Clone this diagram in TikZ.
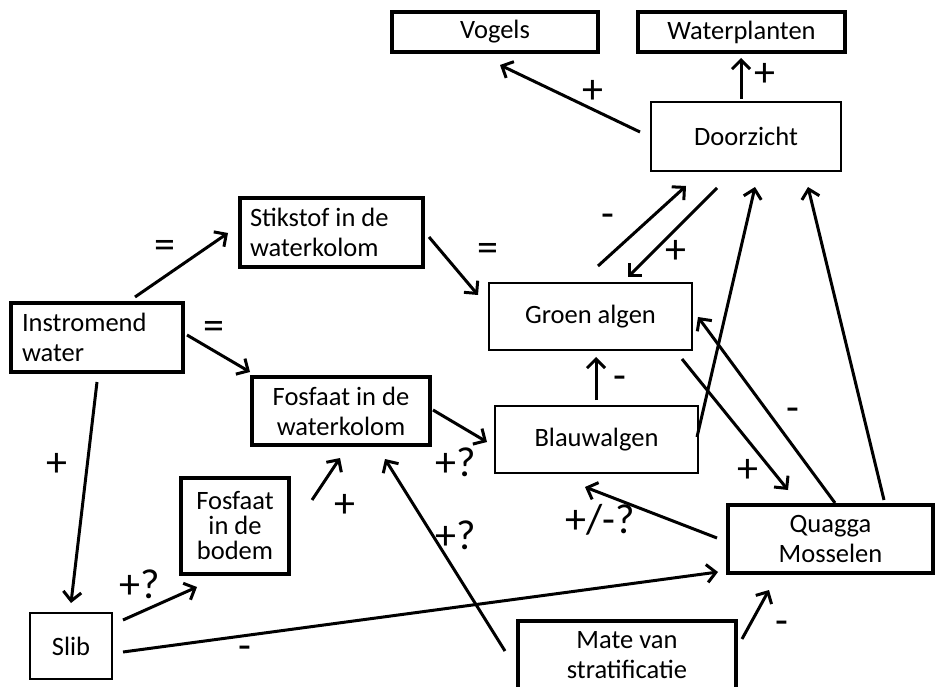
\documentclass[tikz,border=0pt]{standalone}
\usepackage{fontspec}
\setmainfont{Carlito}
\usepackage{tikz}
\usetikzlibrary{arrows.meta, calc}

\tikzset{
  kader/.style={draw, line width=3.6pt, inner sep=0pt, align=center,
                font=\fontsize{26.5}{30}\selectfont},
  dunkader/.style={kader, line width=2pt},
  pijl/.style={line width=3pt, -{Straight Barb[length=9pt,width=18pt]}},
  teken/.style={inner sep=0pt, font=\fontsize{42}{42}\selectfont},
}

\begin{document}
\begin{tikzpicture}[x=1pt, y=-1pt]
  \useasboundingbox (0,0) rectangle (938,687);
  % bovenste rij
  \node[kader, minimum width=206pt, minimum height=40pt] (vogels) at (495,32) {Vogels};
  \node[kader, minimum width=207pt, minimum height=40pt] (planten) at (741.5,32) {Waterplanten};
  \node[dunkader, minimum width=190pt, minimum height=69pt] (door) at (746,136.5) {Doorzicht};
  % nutrienten
  \node[kader, align=flush left, text width=163pt, inner xsep=10pt, minimum height=69pt]
       (stikstof) at (331.5,232.5) {Stikstof in de\\waterkolom};
  \node[kader, align=flush left, text width=150pt, inner xsep=11pt, minimum height=69pt]
       (instroom) at (97,337.5) {Instromend\\water};
  \node[kader, minimum width=178pt, minimum height=68pt] (fosfwk) at (341,411) {Fosfaat in de\\waterkolom};
  \node[kader, font=\fontsize{26.5}{25}\selectfont, minimum width=108pt, minimum height=96pt]
       (fosfbod) at (235,526) {Fosfaat\\in de\\bodem};
  % algen
  \node[dunkader, minimum width=203pt, minimum height=67pt] (groen) at (590.5,316.5) {Groen algen};
  \node[dunkader, minimum width=203pt, minimum height=67pt] (blauw) at (596.5,439.5) {Blauwalgen};
  % onderste rij
  \node[kader, minimum width=205pt, minimum height=68pt] (quagga) at (830.5,539) {Quagga\\Mosselen};
  \node[dunkader, minimum width=82pt, minimum height=66pt] (slib) at (71,646) {Slib};
  \node[kader, minimum width=218pt, minimum height=68pt] (strat) at (627,655) {Mate van\\stratificatie};

  % pijlen
  \draw[pijl] ($(door)+(-5,-37.5)$) -- ($(planten)+(-0.5,26)$);
  \draw[pijl] ($(door)+(-106,-4.5)$) -- ($(vogels)+(5,33)$);
  \draw[pijl] ($(instroom)+(38,-40.5)$) -- ($(stikstof)+(-103.5,0.5)$);
  \draw[pijl] ($(instroom)+(90,-2.5)$) -- ($(fosfwk)+(-91,-39)$);
  \draw[pijl] ($(stikstof)+(97.5,4.5)$) -- ($(groen)+(-112.5,-21.5)$);
  \draw[pijl] ($(fosfwk)+(92,-1)$) -- ($(blauw)+(-109.5,2.5)$);
  \draw[pijl] ($(instroom)+(0,44.5)$) -- ($(slib)+(0,-43)$);
  \draw[pijl] ($(slib)+(52,-26)$) -- ($(fosfbod)+(-38,61)$);
  \draw[pijl] ($(fosfbod)+(77,-26)$) -- ($(fosfwk)+(-1,47)$);
  \draw[pijl] ($(strat)+(-122,-4)$) -- ($(fosfwk)+(44,48)$);
  \draw[pijl] ($(slib)+(52,6)$) -- ($(quagga)+(-112.5,33)$);
  \draw[pijl] ($(strat)+(115,-16)$) -- ($(quagga)+(-61.5,51)$);
  \draw[pijl] ($(quagga)+(-113.5,-1)$) -- ($(blauw)+(-11.5,47.5)$);
  \draw[pijl] ($(groen)+(91.5,42.5)$) -- ($(quagga)+(-42.5,-49)$);
  \draw[pijl] ($(quagga)+(4.5,-36)$) -- ($(groen)+(107.5,0.5)$);
  \draw[pijl] ($(quagga)+(53.5,-39)$) -- ($(door)+(62,50.5)$);
  \draw[pijl] ($(blauw)+(100.5,-2.5)$) -- ($(door)+(9,50.5)$);
  \draw[pijl] ($(groen)+(7.5,-50.5)$) -- ($(door)+(-60,49.5)$);
  \draw[pijl] ($(door)+(-29,51.5)$) -- ($(groen)+(37.5,-39.5)$);
  \draw[pijl] ($(blauw)+(-0.5,-39.5)$) -- ($(groen)+(5.5,40.5)$);

  % tekens
  \node[teken] (t1) at (593,92) {+};
  \node[teken] (t2) at (765,75) {+};
  \node[teken] (t3) at (165,249) {=};
  \node[teken] (t4) at (214,330) {=};
  \node[teken] (t5) at (488,252) {=};
  \node[teken] (t6) at (456,462) {+?};
  \node[teken] (t7) at (57,465) {+};
  \node[teken] (t8) at (140,584) {+?};
  \node[teken] (t9) at (345,506) {+};
  \node[teken] (t10) at (456,535) {+?};
  \node[teken] (t11) at (245,653) {-};
  \node[teken] (t12) at (782,628) {-};
  \node[teken] (t13) at (600,520) {+/-?};
  \node[teken] (t14) at (748,471) {+};
  \node[teken] (t15) at (793,415) {-};
  \node[teken] (t16) at (620,383) {-};
  \node[teken] (t17) at (608,221) {-};
  \node[teken] (t18) at (676,252) {+};
\end{tikzpicture}
\end{document}
